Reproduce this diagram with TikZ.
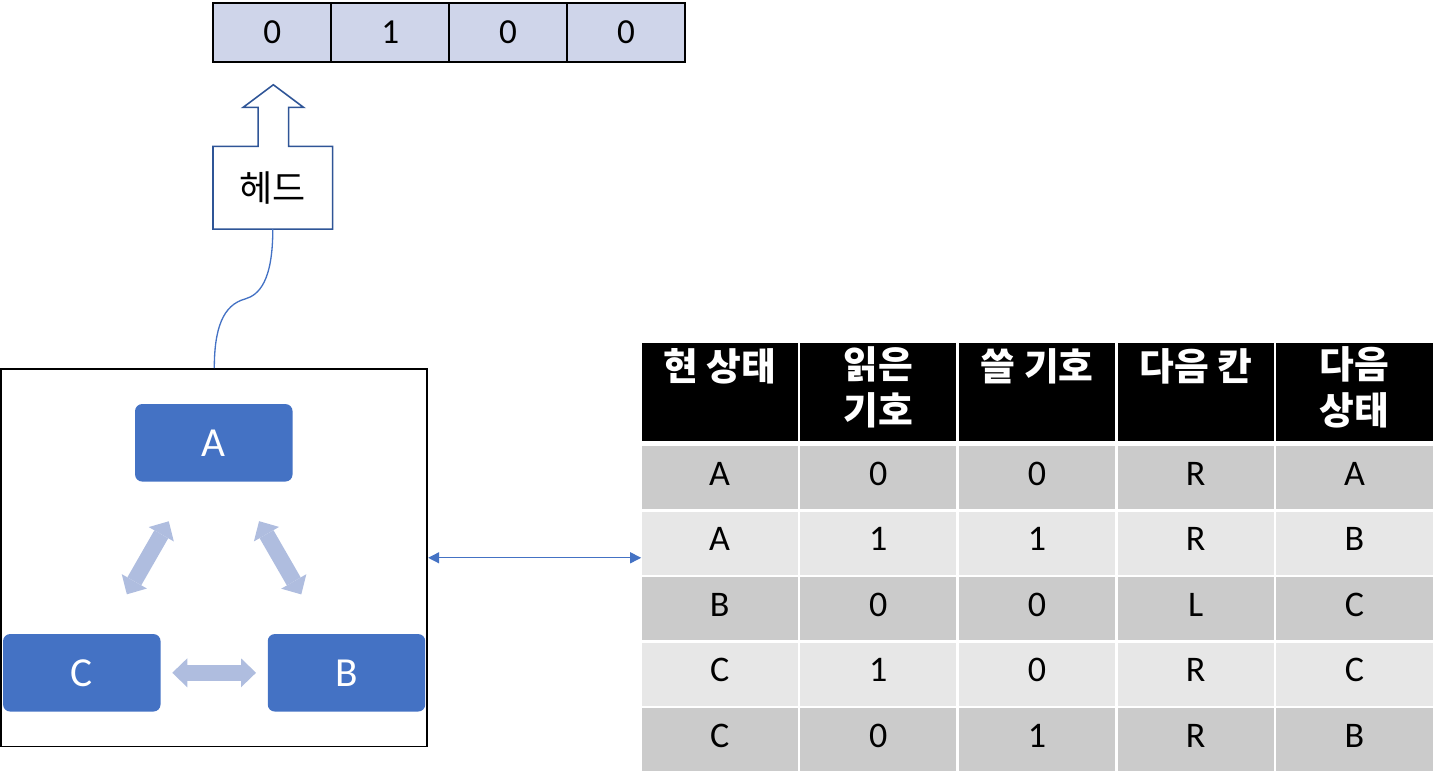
\documentclass[tikz,border=0pt]{standalone}
\usepackage{fontspec}
\setmainfont{Carlito}
\newfontfamily\kofont{Noto Sans CJK KR}
\usepackage{tikz}
\usetikzlibrary{arrows.meta, positioning, calc}

\definecolor{tapefill}{HTML}{CFD5EA}
\definecolor{headblue}{HTML}{2F5597}
\definecolor{stateblue}{HTML}{4472C4}
\definecolor{fatblue}{HTML}{AFBDDF}
\definecolor{rowdark}{HTML}{CBCBCB}
\definecolor{rowlight}{HTML}{E7E7E7}

\begin{document}
\begin{tikzpicture}[x=0.02cm, y=-0.02cm,
    cell/.style={draw=black, line width=1pt, fill=tapefill, minimum width=2.36cm, minimum height=1.18cm, inner sep=0pt, font=\fontsize{20}{24}\selectfont},
    headbox/.style={minimum width=2.38cm, minimum height=1.64cm, inner sep=0pt, font=\kofont\fontsize{20.5}{24}\selectfont},
    headline/.style={draw=headblue, line width=0.9pt, fill=white, line join=miter},
    machinebox/.style={draw=black, line width=1pt, minimum width=8.52cm, minimum height=7.55cm, inner sep=0pt},
    state/.style={fill=stateblue, rounded corners=4pt, minimum width=3.15cm, minimum height=1.55cm, inner sep=0pt, text=white, font=\fontsize{23.5}{28}\selectfont},
    fat/.style={draw=fatblue, line width=0.32cm, {Triangle[length=0.3cm, width=0.58cm, line width=0pt]}-{Triangle[length=0.3cm, width=0.58cm, line width=0pt]}, shorten <=1.81cm, shorten >=1.81cm},
    link/.style={draw=stateblue, line width=0.75pt},
    tips/.style={{Triangle[length=0.22cm, width=0.22cm]}-{Triangle[length=0.22cm, width=0.22cm]}},
    hdr/.style={fill=black, text=white, minimum width=3.126cm, minimum height=1.96cm, inner sep=0pt, align=center, font=\kofont\bfseries\fontsize{21.5}{24}\selectfont},
    body/.style={minimum width=3.126cm, minimum height=1.26cm, inner sep=0pt, text height=13.2pt, text depth=4.6pt, font=\fontsize{20.5}{24}\selectfont}
]
    \useasboundingbox (0,0) rectangle (1440,780);

    % Tape
    \foreach \v [count=\i] in {0,1,0,0}
        \node[cell] (t\i) at ({272.3+117.9*(\i-1)}, 32.2) {\v};

    % Head
    \node[headbox] (head) at (272.8, 187.8) {};
    \draw[headline] (head.north east) -- ++(-44,0) -- ++(0,-39) -- ++(15,0) -- ++(-30.3,-22.7)
        -- ++(-30.3,22.7) -- ++(15,0) -- ++(0,39) -- (head.north west) -- (head.south west)
        -- (head.south east) -- cycle;
    \node[headbox] at (head) {헤드};

    % Machine with states
    \node[machinebox] (machine) at (214.3, 557.8) {};
    \node[state] (A) at (213.8, 442.8) {A};
    \node[state] (C) at (81.8, 672.8) {C};
    \node[state] (B) at (346.5, 672.8) {B};
    \draw[fat] (A.center) -- (C.center);
    \draw[fat] (A.center) -- (B.center);
    \draw[fat] (C.center) -- (B.center);

    % Head wire
    \draw[link] (head.south) .. controls +(0,52) and +(14,-4) .. (245,299)
        .. controls +(-22,6) and +(0,-40) .. (machine.north);

    % Table
    \foreach \h/\l [count=\k] in {현 상태/{}, 읽은/기호, 쓸 기호/{}, 다음 칸/{}, 다음/상태}
        \node[hdr] (hdr\k) at ({719.65+158.7*(\k-1)}, 392) {\strut\h\\\strut\l};
    \foreach \a/\b/\c/\d/\e [count=\r] in {A/0/0/R/A, A/1/1/R/B, B/0/0/L/C, C/1/0/R/C, C/0/1/R/B} {
        \ifodd\r \def\rowfill{rowdark}\else\def\rowfill{rowlight}\fi
        \foreach \v [count=\k] in {\a,\b,\c,\d,\e}
            \node[body, fill=\rowfill] (c-\r-\k) at ({719.65+158.7*(\k-1)}, {477.5+65.6*(\r-1)}) {\v};
    }

    % Machine <-> table
    \draw[link, tips] (machine.east) -- (machine.east -| c-2-1.west);
\end{tikzpicture}
\end{document}
